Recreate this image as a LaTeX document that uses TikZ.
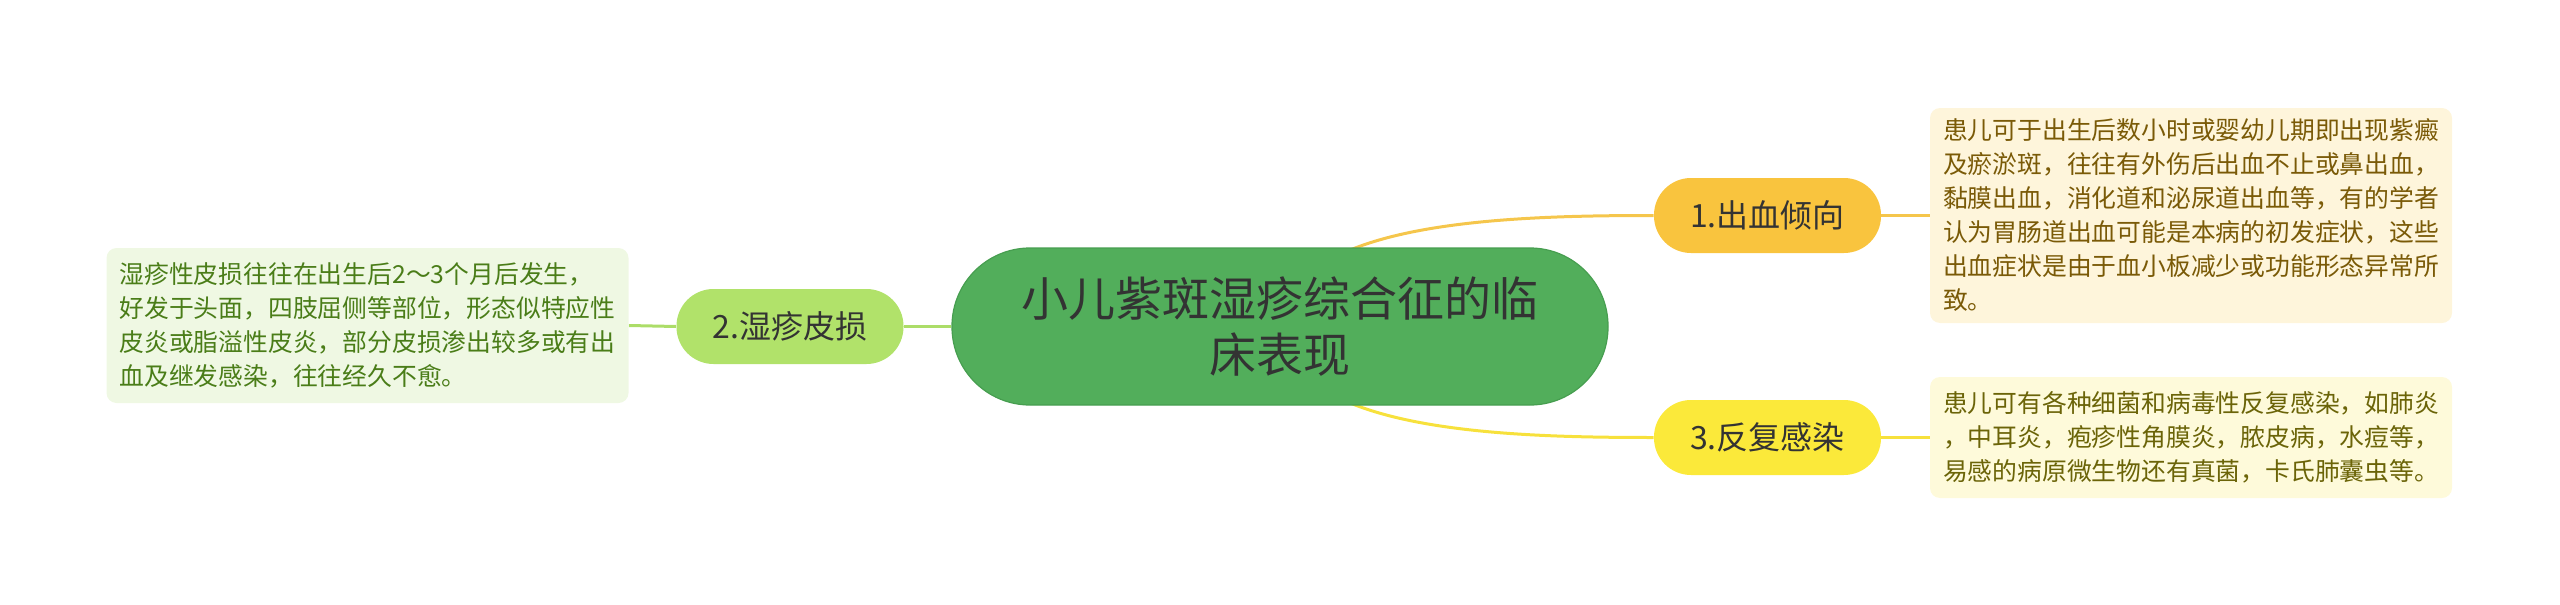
\documentclass[tikz,border=0pt]{standalone}
\usepackage{fontspec}
\setmainfont{Noto Sans CJK SC}
\usetikzlibrary{positioning,backgrounds}
\definecolor{rootgreen}{HTML}{52AE5B}
\definecolor{rootedge}{HTML}{479E50}
\definecolor{bleed}{HTML}{F9C43E}
\definecolor{bleedline}{HTML}{F5C64C}
\definecolor{infect}{HTML}{FBE93A}
\definecolor{infectline}{HTML}{F7E13C}
\definecolor{eczema}{HTML}{B1E26A}
\definecolor{eczemaline}{HTML}{ACDD68}
\definecolor{bleedleaf}{HTML}{FEF5DB}
\definecolor{bleedtext}{HTML}{7A5A07}
\definecolor{infectleaf}{HTML}{FEFADA}
\definecolor{infecttext}{HTML}{6B6408}
\definecolor{eczemaleaf}{HTML}{EFF8E3}
\definecolor{eczematext}{HTML}{4A7D18}
\definecolor{titletext}{HTML}{333333}
\begin{document}
\begin{tikzpicture}[x=0.5pt,y=-0.5pt,
  root/.style={fill=rootgreen,draw=rootedge,line width=0.6pt,rounded corners=39pt,
    minimum width=328pt,minimum height=78.5pt,align=center,text=titletext,
    font=\fontsize{23.5}{28}\selectfont},
  branch/.style={rounded corners=18.5pt,minimum width=113.5pt,minimum height=37.5pt,
    text=titletext,font=\fontsize{16}{19}\selectfont},
  leaf/.style={rounded corners=5pt,minimum width=261pt,align=left,inner xsep=6.5pt,
    font=\fontsize{12.4}{17}\selectfont},
  link/.style={line width=1.5pt}]
\useasboundingbox (0,0) rectangle (2560,605);

%main topic
\node[root] (root) at (1280,326.5) {小儿紫斑湿疹综合征的临\\床表现};

%branches
\node[branch,fill=bleed] (bleeding) at (1767.5,215.5) {1.出血倾向};
\node[branch,fill=eczema] (eczema) at (790,326.5) {2.湿疹皮损};
\node[branch,fill=infect] (infection) at (1767.5,437.5) {3.反复感染};

%details
\node[leaf,fill=bleedleaf,text=bleedtext,minimum height=107.5pt] (bleedinfo) at (2191,215.5)
  {患儿可于出生后数小时或婴幼儿期即出现紫癜\\及瘀淤斑，往往有外伤后出血不止或鼻出血，\\黏膜出血，消化道和泌尿道出血等，有的学者\\认为胃肠道出血可能是本病的初发症状，这些\\出血症状是由于血小板减少或功能形态异常所\\致。};
\node[leaf,fill=eczemaleaf,text=eczematext,minimum height=77.5pt] (eczemainfo) at (367.5,325.5)
  {湿疹性皮损往往在出生后2～3个月后发生，\\好发于头面，四肢屈侧等部位，形态似特应性\\皮炎或脂溢性皮炎，部分皮损渗出较多或有出\\血及继发感染，往往经久不愈。};
\node[leaf,fill=infectleaf,text=infecttext,minimum height=60.5pt] (infectinfo) at (2191,437.5)
  {患儿可有各种细菌和病毒性反复感染，如肺炎\\，中耳炎，疱疹性角膜炎，脓皮病，水痘等，\\易感的病原微生物还有真菌，卡氏肺囊虫等。};

\begin{pgfonlayer}{background}
\draw[link,bleedline] (root.center) .. controls (1290,222) and (1500,215.5) .. (bleeding.west);
\draw[link,infectline] (root.center) .. controls (1290,431) and (1500,437.5) .. (infection.west);
\draw[link,eczemaline] (root.west) -- (eczema.east);
\draw[link,bleedline] (bleeding.east) -- (bleedinfo.west);
\draw[link,infectline] (infection.east) -- (infectinfo.west);
\draw[link,eczemaline] (eczema.west) -- (eczemainfo.east);
\end{pgfonlayer}
\end{tikzpicture}
\end{document}
